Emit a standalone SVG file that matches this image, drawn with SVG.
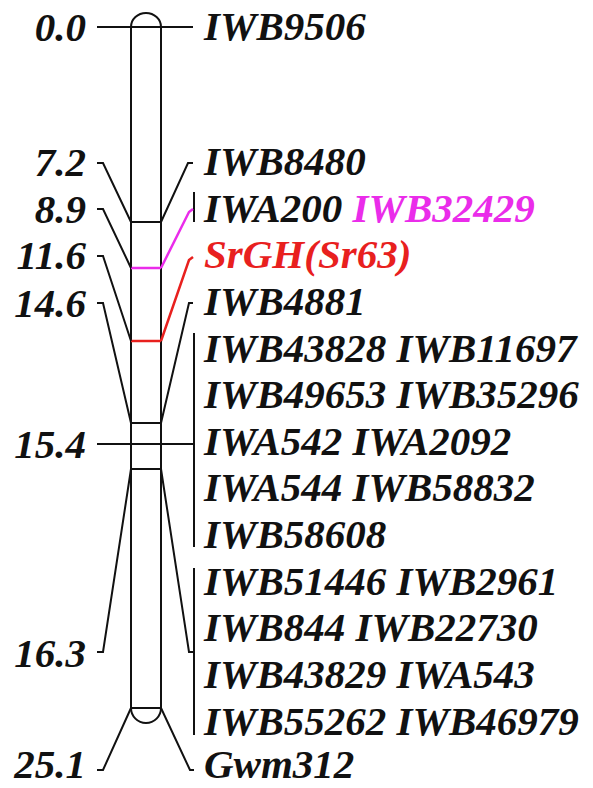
<svg xmlns="http://www.w3.org/2000/svg" width="593" height="788" viewBox="0 0 593 788">
  <style>
    text { font-family: "Liberation Serif", "Times New Roman", serif; font-weight: bold; font-style: italic; font-size: 41px; fill: #111; }
    .pos { text-anchor: end; }
    .ln { fill: none; stroke: #111; stroke-width: 2; }
    .mag { fill: none; stroke: #ea2cea; stroke-width: 2.5; }
    .red { fill: none; stroke: #e8201e; stroke-width: 2.5; }
    text.magt { fill: #ea2cea; }
    text.redt { fill: #e8201e; }
  </style>

  <!-- chromosome bar with rounded telomere caps -->
  <g id="chromosome">
    <path class="ln" d="M131,27 A15,14 0 0 1 161,27"/>
    <path class="ln" d="M131,708 A15,15 0 0 0 161,708"/>
    <line class="ln" x1="131" y1="27" x2="131" y2="708"/>
    <line class="ln" x1="161" y1="27" x2="161" y2="708"/>
    <line class="ln" x1="131" y1="222" x2="161" y2="222"/>
    <line class="ln" x1="131" y1="423" x2="161" y2="423"/>
    <line class="ln" x1="131" y1="469" x2="161" y2="469"/>
    <line class="ln" x1="131" y1="708" x2="161" y2="708"/>
    <line class="mag" x1="131" y1="268" x2="161" y2="268"/>
    <line class="red" x1="131" y1="341" x2="161" y2="341"/>
  </g>

  <!-- connectors from positions / markers to the bar -->
  <g id="connectors">
    <line class="ln" x1="97" y1="27" x2="193" y2="27"/>
    <polyline class="ln" points="97,163 103,163 131,222"/>
    <polyline class="ln" points="97,209 103,209 131,268"/>
    <polyline class="ln" points="97,256 103,256 131,341"/>
    <polyline class="ln" points="97,303 103,303 131,423"/>
    <line class="ln" x1="97" y1="444" x2="194" y2="444"/>
    <polyline class="ln" points="97,652 103,652 131,469"/>
    <polyline class="ln" points="97,770 103,770 131,708"/>

    <polyline class="ln" points="193,163 188,163 161,222"/>
    <line class="ln" x1="194" y1="192" x2="194" y2="222"/>
    <polyline class="mag" points="161,268 189,212 193,209"/>
    <polyline class="red" points="161,341 189,260 193,257"/>
    <polyline class="ln" points="193,303 189,303 161,423"/>
    <line class="ln" x1="194" y1="333" x2="194" y2="547"/>
    <line class="ln" x1="194" y1="568" x2="194" y2="735"/>
    <polyline class="ln" points="161,469 189,652 194,652"/>
    <polyline class="ln" points="161,708 190,770 194,770"/>
  </g>

  <!-- map positions (cM) -->
  <g id="positions">
    <text class="pos" x="86" y="41">0.0</text>
    <text class="pos" x="86" y="176">7.2</text>
    <text class="pos" x="86" y="223">8.9</text>
    <text class="pos" x="86" y="269">11.6</text>
    <text class="pos" x="86" y="317">14.6</text>
    <text class="pos" x="86" y="458">15.4</text>
    <text class="pos" x="86" y="667">16.3</text>
    <text class="pos" x="86" y="778">25.1</text>
  </g>

  <!-- marker names -->
  <g id="m-IWB9506"><text x="204" y="40">IWB9506</text></g>
  <g id="m-IWB8480"><text x="204" y="175">IWB8480</text></g>
  <g id="m-IWA200"><text x="204" y="222">IWA200 <tspan class="magt" fill="#ea2cea">IWB32429</tspan></text></g>
  <g id="m-SrGH"><text class="redt" x="204" y="268">SrGH(Sr63)</text></g>
  <g id="m-IWB4881"><text x="204" y="315">IWB4881</text></g>
  <g id="m-group154">
    <text x="204" y="362">IWB43828 IWB11697</text>
    <text x="204" y="408">IWB49653 IWB35296</text>
    <text x="204" y="455">IWA542 IWA2092</text>
    <text x="204" y="501">IWA544 IWB58832</text>
    <text x="204" y="548">IWB58608</text>
  </g>
  <g id="m-group163">
    <text x="204" y="595">IWB51446 IWB2961</text>
    <text x="204" y="641">IWB844 IWB22730</text>
    <text x="204" y="688">IWB43829 IWA543</text>
    <text x="204" y="735">IWB55262 IWB46979</text>
  </g>
  <g id="m-Gwm312"><text x="204" y="778">Gwm312</text></g>
</svg>
